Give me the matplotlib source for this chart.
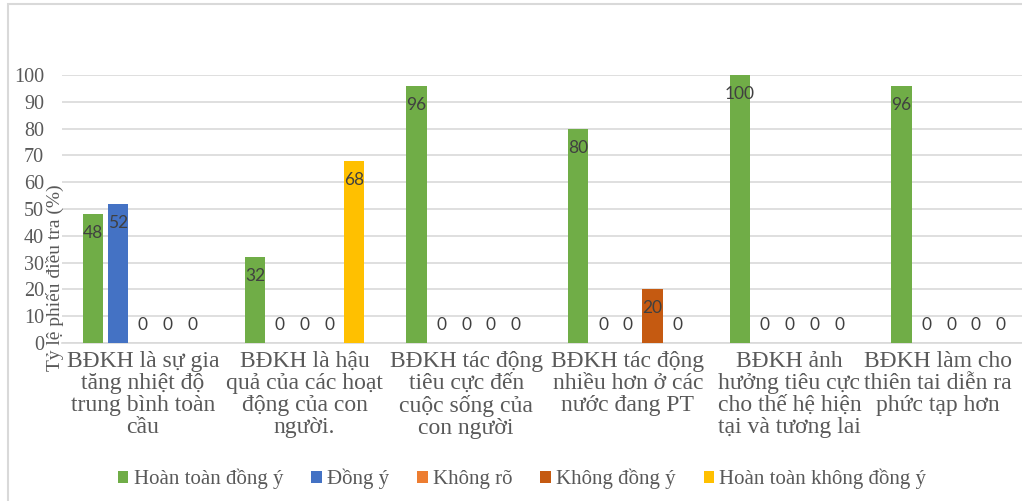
import numpy as np
import matplotlib
matplotlib.use('Agg')
from matplotlib import pyplot as plt
from matplotlib.patches import Rectangle, Patch
from matplotlib.transforms import ScaledTranslation

# data
categories = ['BĐKH là sự gia\ntăng nhiệt độ\ntrung bình toàn\ncầu',
              'BĐKH là hậu\nquả của các hoạt\nđộng của con\nngười.',
              'BĐKH tác động\ntiêu cực đến\ncuộc sống của\ncon người',
              'BĐKH tác động\nnhiều hơn ở các\nnước đang PT',
              'BĐKH ảnh\nhưởng tiêu cực\ncho thế hệ hiện\ntại và tương lai',
              'BĐKH làm cho\nthiên tai diễn ra\nphức tạp hơn']
series_names = ['Hoàn toàn đồng ý', 'Đồng ý', 'Không rõ', 'Không đồng ý', 'Hoàn toàn không đồng ý']
hoan_toan_dong_y = [48, 32, 96, 80, 100, 96]
dong_y = [52, 0, 0, 0, 0, 0]
khong_ro = [0, 0, 0, 0, 0, 0]
khong_dong_y = [0, 0, 0, 20, 0, 0]
hoan_toan_khong = [0, 68, 0, 0, 0, 0]
colors = ['#70AD47', '#4472C4', '#ED7D31', '#C55A11', '#FFC000']

series = [hoan_toan_dong_y, dong_y, khong_ro, khong_dong_y, hoan_toan_khong]

serif = ['Liberation Serif', 'DejaVu Serif']
grey = '#595959'

fig = plt.figure(figsize=(10.22, 5.01), dpi=100)
# plot area runs past the right edge (cropped like the original)
ax = fig.add_axes([62 / 1022, 158 / 501, 970 / 1022, 268 / 501])

slot = 0.1534
bw = 0.127
x = np.arange(len(categories))
for j, (vals, c) in enumerate(zip(series, colors)):
    pos = x + (j - 2) * slot
    ax.bar(pos, vals, width=bw, color=c, zorder=3)
    for p, v in zip(pos, vals):
        # labels sit inside the top of the bar, zeros float just above the axis
        off = -19 if v > 0 else 18
        ax.annotate(str(v), (p, v), xytext=(0, off), textcoords='offset pixels',
                    ha='center', va='center', fontsize=12.5, color='#404040', family='Lato', zorder=4)

ax.set_xlim(-0.5, 5.5)
ax.set_ylim(0, 100)
ax.set_yticks(np.arange(0, 101, 10))
ax.yaxis.grid(True, color='#D9D9D9', lw=1.2, zorder=0)
ax.set_axisbelow(True)
for s in ['top', 'right', 'left']:
    ax.spines[s].set_visible(False)
ax.spines['bottom'].set_color('#D9D9D9')
ax.spines['bottom'].set_linewidth(1.2)
ax.tick_params(length=0)
ax.tick_params(axis='y', pad=13)
ax.tick_params(axis='x', pad=6)
ax.set_xticks(x)
ax.set_xticklabels(categories, fontsize=17, color=grey, family=serif, linespacing=1.05)
# last label pulled back inside the chart like the original
last = ax.get_xticklabels()[-1]
last.set_transform(last.get_transform() + ScaledTranslation(-0.13, 0, fig.dpi_scale_trans))
for t in ax.get_yticklabels():
    t.set_fontsize(14.5)
    t.set_color(grey)
    t.set_family(serif)

ax.set_ylabel('Tỷ lệ phiếu điều tra (%)', fontsize=14, color=grey, family=serif, va='center')
ax.yaxis.set_label_coords(-0.007, 0.245)

handles = [Patch(facecolor=c) for c in colors]
fig.legend(handles, series_names, loc='center', bbox_to_anchor=(0.511, 0.044), ncol=5, frameon=False,
           prop={'family': serif, 'size': 15}, labelcolor=grey, handlelength=0.5, handleheight=0.5,
           handletextpad=0.25, columnspacing=1.35)

# chart frame
fig.patches.append(Rectangle((8 / 1022, -0.1), 1.2, (497 / 501) + 0.1, transform=fig.transFigure,
                             fill=False, edgecolor='#D9D9D9', lw=1.5))

plt.savefig('out.png', dpi=100)
